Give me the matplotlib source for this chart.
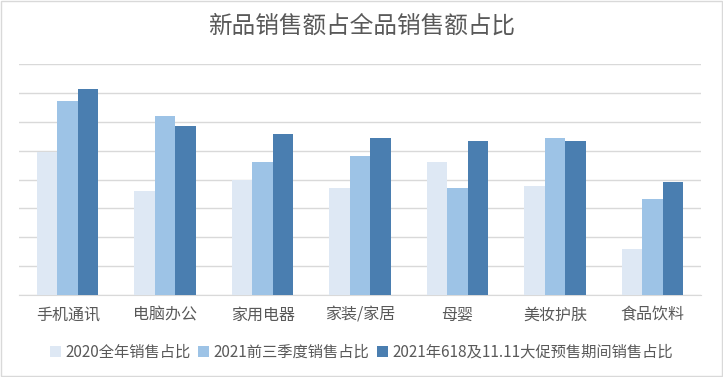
import matplotlib
matplotlib.use("Agg")
import matplotlib.pyplot as plt
import numpy as np

plt.rcParams['font.family'] = ['Noto Sans CJK SC', 'DejaVu Sans']

categories = ["手机通讯", "电脑办公", "家用电器", "家装/家居", "母婴", "美妆护肤", "食品饮料"]
series_names = ["2020全年销售占比", "2021前三季度销售占比", "2021年618及11.11大促预售期间销售占比"]
s2020 = [24.8, 18.0, 20.0, 18.5, 23.1, 18.8, 8.0]
s2021q = [33.6, 31.0, 23.0, 24.1, 18.6, 27.2, 16.6]
s2021p = [35.7, 29.3, 27.9, 27.2, 26.7, 26.6, 19.5]
colors = ["#DEE8F4", "#9DC3E6", "#4A7EB0"]

fig = plt.figure(figsize=(7.23, 3.77), dpi=100)
ax = fig.add_axes([0.0263, 0.2175, 0.9433, 0.6125])

x = np.arange(len(categories))
w = 0.21
for i, (vals, c, name) in enumerate(zip([s2020, s2021q, s2021p], colors, series_names)):
    ax.bar(x + (i - 1) * w, vals, width=w, color=c, label=name, zorder=3)

ax.set_xlim(-0.5, len(categories) - 0.5)
ax.set_ylim(0, 40)
ax.set_yticks(np.arange(0, 41, 5))
ax.yaxis.grid(True, color="#D9D9D9", linewidth=1, zorder=0)
ax.tick_params(axis='y', left=False, labelleft=False)
ax.tick_params(axis='x', bottom=False, labelsize=11.5, labelcolor="#595959", pad=5)
ax.set_xticks(x)
ax.set_xticklabels(categories)
for s in ["top", "right", "left"]:
    ax.spines[s].set_visible(False)
ax.spines["bottom"].set_color("#D9D9D9")

fig.suptitle("新品销售额占全品销售额占比", y=0.962, fontsize=17, color="#595959")
fig.legend(loc="center", bbox_to_anchor=(0.5, 0.066), ncol=3, frameon=False,
           fontsize=11, labelcolor="#595959", handlelength=0.7, handleheight=0.7,
           handletextpad=0.3, columnspacing=0.5)

border = plt.Rectangle((0.001, 0.002), 0.997, 0.996, transform=fig.transFigure,
                       fill=False, edgecolor="#D9D9D9", linewidth=1)
fig.add_artist(border)

fig.savefig("out.png", dpi=100, facecolor="white")
